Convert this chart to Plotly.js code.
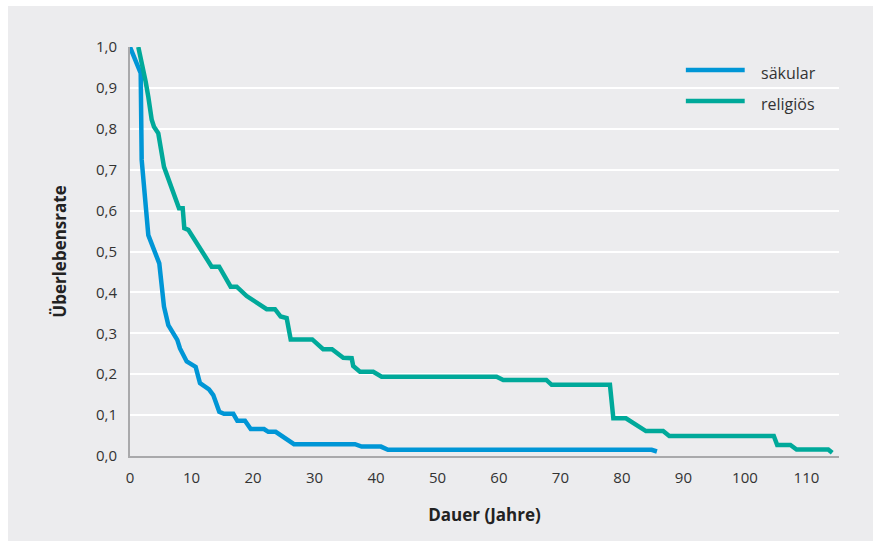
<!DOCTYPE html>
<html>
<head>
<meta charset="utf-8">
<script src="https://cdn.plot.ly/plotly-3.0.1.min.js"></script>
<style>
  html, body { margin: 0; padding: 0; background: #ffffff; width: 881px; height: 547px; overflow: hidden; }
  #chart { position: absolute; left: 8px; top: 6px; width: 865px; height: 535px; }
</style>
</head>
<body>
<div id="chart"></div>
<script>
// Säkular (blue)
const saekularX = [0, 1.74, 1.9, 2.98, 4.76, 5.53, 6.23, 7.69, 8.13, 9.22, 10.68, 11.38, 12.85, 13.54, 14.52, 15.28, 16.8, 17.45, 18.7, 19.63, 21.79, 22.49, 23.69, 26.67, 36.59, 37.67, 40.81, 41.95, 84.83, 85.69];
const saekularY = [1.0, 0.936, 0.724, 0.54, 0.471, 0.365, 0.32, 0.284, 0.263, 0.231, 0.218, 0.178, 0.163, 0.149, 0.108, 0.103, 0.103, 0.086, 0.086, 0.066, 0.066, 0.059, 0.059, 0.029, 0.029, 0.023, 0.023, 0.015, 0.015, 0.011];

// Religiös (green)
const religioesX = [1.35, 2.0, 2.55, 2.98, 3.53, 3.9, 4.6, 5.53, 6.62, 7.97, 8.57, 8.83, 9.48, 13.28, 14.5, 16.37, 17.35, 18.98, 22.23, 23.58, 24.5, 25.48, 26.13, 29.64, 31.41, 32.85, 34.68, 36.05, 36.3, 37.4, 39.56, 40.92, 59.62, 60.7, 67.7, 68.57, 78.05, 78.4, 78.6, 80.65, 83.9, 86.7, 87.7, 104.7, 105.25, 107.4, 108.4, 113.55, 114.2];
const religioesY = [1.0, 0.96, 0.915, 0.878, 0.822, 0.805, 0.789, 0.707, 0.658, 0.606, 0.606, 0.557, 0.553, 0.463, 0.463, 0.414, 0.414, 0.391, 0.359, 0.359, 0.341, 0.337, 0.285, 0.285, 0.261, 0.261, 0.24, 0.239, 0.22, 0.206, 0.206, 0.194, 0.194, 0.186, 0.186, 0.174, 0.174, 0.125, 0.092, 0.092, 0.061, 0.061, 0.049, 0.049, 0.027, 0.027, 0.016, 0.016, 0.008];

const seriesNames = ['säkular', 'religiös'];
const seriesColors = ['#0096d6', '#00a99a'];
const xTicks = [0, 10, 20, 30, 40, 50, 60, 70, 80, 90, 100, 110];
const yTicks = [0, 0.1, 0.2, 0.3, 0.4, 0.5, 0.6, 0.7, 0.8, 0.9, 1.0];

const FONT = '"Open Sans", "Noto Sans", sans-serif';

const traces = [
  { x: saekularX, y: saekularY, name: seriesNames[0], type: 'scatter', mode: 'lines',
    line: { color: seriesColors[0], width: 4.5 }, cliponaxis: false },
  { x: religioesX, y: religioesY, name: seriesNames[1], type: 'scatter', mode: 'lines',
    line: { color: seriesColors[1], width: 4.5 }, cliponaxis: false }
];

// custom legend (line samples + labels)
const legY = [0.944, 0.868];
const shapes = [];
const annotations = [];
for (let i = 0; i < seriesNames.length; i++) {
  shapes.push({ type: 'line', xref: 'paper', yref: 'paper', x0: 0.784, x1: 0.867, y0: legY[i], y1: legY[i],
    line: { color: seriesColors[i], width: 4.5 } });
  annotations.push({ xref: 'paper', yref: 'paper', x: 0.887, y: legY[i] - 0.008, xanchor: 'left', yanchor: 'middle',
    text: seriesNames[i], showarrow: false, font: { family: FONT, size: 16, color: '#333333' } });
}

const layout = {
  width: 865, height: 535,
  margin: { l: 122, r: 34, t: 41, b: 85 },
  paper_bgcolor: '#ececee',
  plot_bgcolor: '#ececee',
  separators: ',.',
  showlegend: false,
  font: { family: FONT, size: 15, color: '#333333' },
  xaxis: {
    range: [0, 115.3], tickvals: xTicks, ticks: '', showgrid: false, zeroline: false,
    showline: true, linecolor: '#a9a9ab', linewidth: 2, ticklabelstandoff: 7,
    tickfont: { family: FONT, size: 15, color: '#333333' },
    title: { text: 'Dauer (Jahre)', font: { family: FONT, size: 17, color: '#222222', weight: 'bold' }, standoff: 23 }
  },
  yaxis: {
    range: [0, 1.0], tickvals: yTicks, tickformat: '.1f', ticks: '', showgrid: true,
    gridcolor: '#ffffff', gridwidth: 2, zeroline: false,
    showline: true, linecolor: '#a9a9ab', linewidth: 2, ticklabelstandoff: 8,
    tickfont: { family: FONT, size: 15, color: '#333333' },
    title: { text: 'Überlebensrate', font: { family: FONT, size: 17, color: '#222222', weight: 'bold' }, standoff: 25 }
  },
  shapes: shapes,
  annotations: annotations
};

Plotly.newPlot('chart', traces, layout, { displayModeBar: false, staticPlot: true });
</script>
</body>
</html>
